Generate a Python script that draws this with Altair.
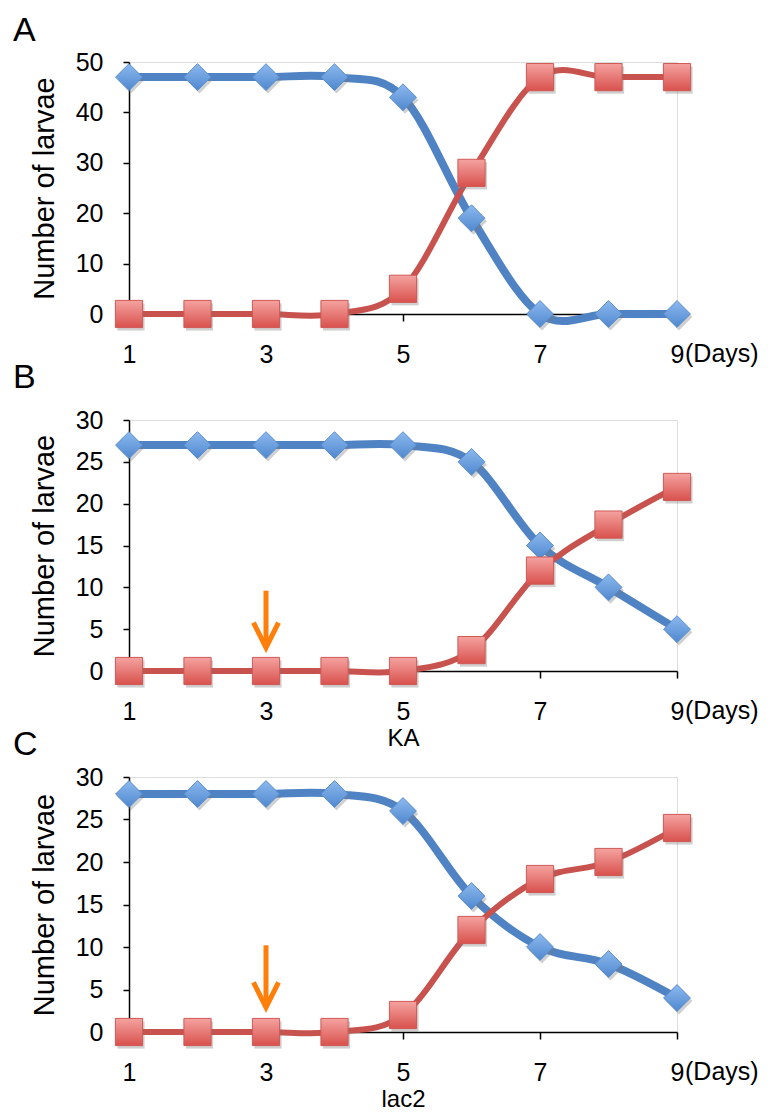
import altair as alt
import pandas as pd

days = [1, 2, 3, 4, 5, 6, 7, 8, 9]
a_blue = [47, 47, 47, 47, 43, 19, 0, 0, 0]
a_red = [0, 0, 0, 0, 5, 28, 47, 47, 47]
b_blue = [27, 27, 27, 27, 27, 25, 15, 10, 5]
b_red = [0, 0, 0, 0, 0, 2.5, 12, 17.5, 22]
c_blue = [28, 28, 28, 28, 26, 16, 10, 8, 4]
c_red = [0, 0, 0, 0, 2, 12, 18, 20, 24]
x_ticks = [1, 3, 5, 7, 9]
arrow_day = [3]
b_arrow = [9.6, 2.8]
c_arrow = [10.2, 2.9]

FONT = "Liberation Sans"
BLUE_LINE = "#4F83C3"
RED_LINE = "#C8524E"
ORANGE = "#FF7F0A"

blue_fill = alt.LinearGradient(
    gradient="linear", x1=0, y1=0, x2=0, y2=1,
    stops=[alt.GradientStop(offset=0, color="#8DB9EE"),
           alt.GradientStop(offset=1, color="#4F88CF")])
red_fill = alt.LinearGradient(
    gradient="linear", x1=0, y1=0, x2=0, y2=1,
    stops=[alt.GradientStop(offset=0, color="#F4A3A0"),
           alt.GradientStop(offset=1, color="#D9514D")])


def panel(blue, red, ymax, ystep, letter, letter_dy, height, xtitle, arrow):
    df = pd.DataFrame({
        "day": days * 2,
        "value": blue + red,
        "series": ["blue"] * len(days) + ["red"] * len(days),
    })
    xaxis = alt.Axis(values=x_ticks, grid=False, domainColor="black",
                     domainWidth=1.5, tickColor="black", tickWidth=1.5,
                     tickSize=7, labelFont=FONT, labelFontSize=25,
                     labelColor="black", labelPadding=21, labelAngle=0,
                     titleFont=FONT, titleFontSize=24, titleFontWeight="normal",
                     titleColor="black", titlePadding=2, labelFlush=False)
    yaxis = alt.Axis(values=list(range(0, ymax + 1, ystep)), grid=False,
                     domainColor="black", domainWidth=1.5, tickColor="black",
                     tickWidth=1.5, tickSize=6, labelFont=FONT,
                     labelFontSize=25, labelColor="black", labelPadding=20,
                     titleFont=FONT, titleFontSize=29,
                     titleFontWeight="normal", titleColor="black",
                     titlePadding=16, labelFlush=False)
    X = alt.X("day:Q", scale=alt.Scale(domain=[1, 9], nice=False, zero=False),
              axis=xaxis, title=xtitle)
    Y = alt.Y("value:Q", scale=alt.Scale(domain=[0, ymax], nice=False),
              axis=yaxis, title="Number of larvae")

    base = alt.Chart(df)
    bl = base.transform_filter(alt.datum.series == "blue")
    rd = base.transform_filter(alt.datum.series == "red")
    layers = [
        bl.mark_line(interpolate="cardinal", color=BLUE_LINE, strokeWidth=8,
                     clip=False).encode(x=X, y=Y),
        bl.mark_point(shape="diamond", size=720, filled=True, fill="#777777",
                      opacity=0.35, xOffset=2, yOffset=3, strokeWidth=0,
                      clip=False).encode(x=X, y=Y),
        bl.mark_point(shape="diamond", size=720, filled=True, fill=blue_fill,
                      stroke="#5A8FD0", strokeWidth=1, opacity=1,
                      clip=False).encode(x=X, y=Y),
        rd.mark_line(interpolate="cardinal", color=RED_LINE, strokeWidth=6,
                     clip=False).encode(x=X, y=Y),
        rd.mark_point(shape="square", size=740, filled=True, fill="#777777",
                      opacity=0.35, xOffset=2, yOffset=3, strokeWidth=0,
                      clip=False).encode(x=X, y=Y),
        rd.mark_point(shape="square", size=740, filled=True, fill=red_fill,
                      stroke="#CF5955", strokeWidth=1, opacity=1,
                      clip=False).encode(x=X, y=Y),
    ]
    if arrow is not None:
        adf = pd.DataFrame({"day": arrow_day, "value": [arrow[0]],
                            "value2": [arrow[1]]})
        tdf = pd.DataFrame({"day": arrow_day, "value": [arrow[1]]})
        layers.append(alt.Chart(adf).mark_rule(color=ORANGE, strokeWidth=5)
                      .encode(x=X, y=Y, y2="value2:Q"))
        layers.append(alt.Chart(tdf).mark_point(
            shape="M-0.5,-1L0,0L0.5,-1", size=2500, filled=False,
            stroke=ORANGE, strokeWidth=5, opacity=1, strokeJoin="miter",
            strokeCap="butt").encode(x=X, y=Y))
    ddf = pd.DataFrame({"day": [9]})
    layers.append(alt.Chart(ddf).mark_text(
        align="left", baseline="top", dx=8, fontSize=25, font=FONT,
        color="black").encode(x=X, y=alt.value(height + 28),
                              text=alt.value("(Days)")))
    ldf = pd.DataFrame({"letter": [letter]})
    layers.append(alt.Chart(ldf).mark_text(
        align="left", baseline="alphabetic", fontSize=34, font=FONT,
        color="black").encode(x=alt.value(-116), y=alt.value(letter_dy),
                              text="letter:N"))
    return alt.layer(*layers).properties(width=548, height=height)


pa = panel(a_blue, a_red, 50, 10, "A", -21, 252, None, None)
pb = panel(b_blue, b_red, 30, 5, "B", -32, 251, "KA", b_arrow)
pc = panel(c_blue, c_red, 30, 5, "C", -22, 255, "lac2", c_arrow)

chart = alt.vconcat(pa, pb, pc, spacing=106, bounds="flush").properties(
    padding={"left": 4, "top": 5, "right": 5, "bottom": 5}
).configure_view(strokeWidth=0, stroke="transparent").configure(
    background="white")

chart.save("out.html", embed_options={"renderer": "svg", "actions": False})
